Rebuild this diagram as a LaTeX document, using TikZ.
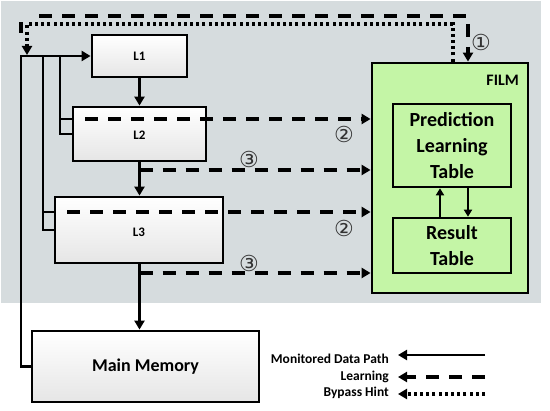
\documentclass[tikz,border=0pt]{standalone}
\usepackage{fontspec}
\setmainfont{Carlito}
\newfontfamily\djv{DejaVu Sans}
\usetikzlibrary{arrows.meta,shadows}
\definecolor{bggray}{RGB}{214,220,222}
\definecolor{filmgreen}{RGB}{196,245,166}
\begin{document}
\begin{tikzpicture}[x=1pt,y=-1pt,
  cache/.style={draw=black,line width=2.8pt,top color=white,bottom color=black!10,
    drop shadow={shadow xshift=1pt,shadow yshift=-1.5pt,opacity=0.35},
    font=\bfseries\fontsize{13}{15}\selectfont,inner sep=0pt},
  film/.style={draw=black,line width=2.8pt,fill=filmgreen,inner sep=0pt},
  tbl/.style={draw=black,line width=2.6pt,fill=filmgreen,inner sep=0pt,align=center,
    font=\bfseries\fontsize{20}{26}\selectfont},
  mon/.style={line width=2.6pt,draw=black},
  learn/.style={line width=3.2pt,draw=black,dash pattern=on 13pt off 10pt},
  hint/.style={line width=3.2pt,draw=black,dash pattern=on 3pt off 3.2pt},
  tip/.style={-{Triangle[length=9pt,width=10pt]}},
  stip/.style={-{Triangle[length=7pt,width=8pt]}},
  num/.style={font=\djv\fontsize{22}{22}\selectfont,text=black!80,inner sep=0pt},
  leg/.style={font=\bfseries\fontsize{13.5}{15}\selectfont,inner sep=0pt,anchor=base east}
]
\useasboundingbox (0,0) rectangle (550,411);
\fill[bggray] (1,1) rectangle (541,303);

% nodes
\node[cache,minimum width=95pt,minimum height=42pt] (L1) at (139.5,56) {L1};
\node[cache,minimum width=133pt,minimum height=54pt] (L2) at (139.5,134) {};
\node[cache,minimum width=168pt,minimum height=66pt] (L3) at (139,230) {};
\node[cache,minimum width=227pt,minimum height=71pt,font=\bfseries\fontsize{18}{20}\selectfont] (MM) at (145.5,366.5) {Main Memory};
\node[film,minimum width=156pt,minimum height=230pt] (FILM) at (450,178) {};
\node[font=\bfseries\fontsize{16}{18}\selectfont,anchor=east,inner sep=0pt] (filmlbl) at (519,80) {FILM};
\node[tbl,minimum width=118pt,minimum height=83pt] (PLT) at (452,145.5) {Prediction\\Learning\\Table};
\node[tbl,minimum width=118pt,minimum height=55pt] (RT) at (452,245.5) {Result\\Table};

% coordinates
\coordinate (c1) at (21,56);
\coordinate (t3) at (43,56);
\coordinate (t2) at (60,56);
\coordinate (k2) at (60,119);
\coordinate (k3) at (43,212);
\coordinate (d2) at (85,119);
\coordinate (d3) at (67,212);
\coordinate (e2) at (139.5,170);
\coordinate (e3) at (139.5,273);
\coordinate (ls) at (21,33);
\coordinate (lv) at (21,22);
\coordinate (lh) at (39,16);
\coordinate (rc) at (468,16);
\coordinate (hx) at (453,24);
\coordinate (hl) at (27,24);
\coordinate (he) at (27,55);

% monitored data paths
\draw[mon,tip] (MM.west) -| (c1) -- (L1.west);
\draw[mon] (t3) |- (L3.west);
\draw[mon] (k3) -- (L3.west |- k3);
\draw[mon] (t2) |- (L2.west);
\draw[mon] (k2) -- (L2.west |- k2);
\draw[mon,tip] (L1.south) -- (L2.north);
\draw[mon,tip] (L2.south) -- (L2.south |- L3.north);
\draw[mon,tip] (L2.south |- L3.south) -- (L2.south |- MM.north);
\draw[mon,stip] ([xshift=-12pt]RT.north) -- ([xshift=-12pt]PLT.south);
\draw[mon,stip] ([xshift=16pt]PLT.south) -- ([xshift=16pt]RT.north);

% learning paths
\draw[learn,tip] (d2) -- (FILM.west |- d2);
\draw[learn,tip] (d3) -- (FILM.west |- d3);
\draw[learn,tip] (e2) -- (FILM.west |- e2);
\draw[learn,tip] (e3) -- (FILM.west |- e3);
\draw[line width=3.2pt] (ls) -- (lv);
\draw[learn,tip] (lh) -- (rc) -- (rc |- FILM.north);

% bypass hint
\draw[hint,tip] (hx |- FILM.north) -- (hx) -- (hl) -- (he);

% cache labels
\node[font=\bfseries\fontsize{13}{15}\selectfont] (l2lbl) at (139.5,135) {L2};
\node[font=\bfseries\fontsize{13}{15}\selectfont] (l3lbl) at (139,232) {L3};

% numbers
\node[num] (n1) at (481,42) {①};
\node[num] (n2a) at (344,134) {②};
\node[num] (n2b) at (344,228) {②};
\node[num] (n3a) at (249,159) {③};
\node[num] (n3b) at (249,263) {③};

% legend
\node[leg] (lg1) at (389,364) {Monitored Data Path};
\node[leg] (lg2) at (389,381) {Learning};
\node[leg] (lg3) at (389,397) {Bypass Hint};
\coordinate (a1) at (485,355);
\coordinate (a2) at (485,377);
\coordinate (a3) at (485,394);
\coordinate (b1) at (398,355);
\coordinate (b2) at (398,377);
\coordinate (b3) at (398,394);
\draw[mon,tip] (a1) -- (b1);
\draw[learn,tip] (a2) -- (b2);
\draw[hint,tip] (a3) -- (b3);
\end{tikzpicture}
\end{document}
